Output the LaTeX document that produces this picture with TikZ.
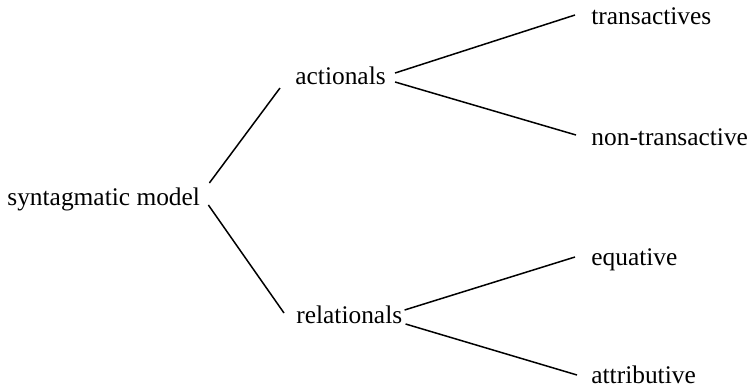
\documentclass[tikz,border=0pt]{standalone}
\usepackage{fontspec}
\setmainfont{Liberation Serif}
\begin{document}
\begin{tikzpicture}[x=0.5pt,y=-0.5pt,
  lbl/.style={anchor=base west, inner sep=0pt, font=\fontsize{12.7}{14}\selectfont},
  edge/.style={line width=0.75pt}]
\useasboundingbox (0,0) rectangle (751,387);
\node[lbl] (sm) at (7,205) {syntagmatic model};
\node[lbl] (act) at (295,84) {actionals};
\node[lbl] (rel) at (296,323) {relationals};
\node[lbl] (tr) at (591,24) {transactives};
\node[lbl] (nt) at (591,145) {non-transactive};
\node[lbl] (eq) at (591,265) {equative};
\node[lbl] (at) at (591,383) {attributive};
\draw[edge] ([shift={(9,-22)}]sm.base east) -- ([shift={(-15,4)}]act.base west);
\draw[edge] ([shift={(8,0)}]sm.base east) -- ([shift={(-12,-10)}]rel.base west);
\draw[edge] ([shift={(9,-11)}]act.base east) -- ([shift={(-16,-9)}]tr.base west);
\draw[edge] ([shift={(9,-2)}]act.base east) -- ([shift={(-15,-10)}]nt.base west);
\draw[edge] ([shift={(2,-13)}]rel.base east) -- ([shift={(-16,-8)}]eq.base west);
\draw[edge] ([shift={(3,1)}]rel.base east) -- ([shift={(-14,-8)}]at.base west);
\end{tikzpicture}
\end{document}
